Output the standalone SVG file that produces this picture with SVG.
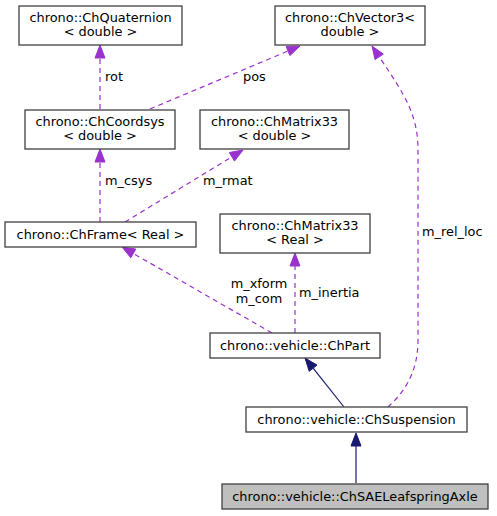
<svg xmlns="http://www.w3.org/2000/svg" width="497" height="516" viewBox="0 0 497 516">
<style>
.box{fill:#ffffff;stroke:#404040;stroke-width:1.3}
.hl{fill:#bfbfbf;stroke:#404040;stroke-width:1.3}
text{font-family:"DejaVu Sans","Liberation Sans",sans-serif;font-size:12.9px;fill:#000}
.c{text-anchor:middle}
.d{fill:none;stroke:#9a32cd;stroke-width:1.2;stroke-dasharray:5,4}
.da{fill:#9a32cd;stroke:#9a32cd}
.s{fill:none;stroke:#191970;stroke-width:1.2}
.sa{fill:#191970;stroke:#191970}
</style>
<rect width="497" height="516" fill="#ffffff"/>
<g id="connectors">
<path class="d" d="M100,109 L100,58"/>
<polygon class="da" points="95,58 100,45 105,58"/>
<text x="105" y="81">rot</text>
<path class="d" d="M150,109 L288,51"/>
<polygon class="da" points="289.9,55.6 300,46 286.1,46.4"/>
<text x="243" y="81">pos</text>
<path class="d" d="M100,222 L100,162"/>
<polygon class="da" points="95,162 100,149 105,162"/>
<text x="105" y="185">m_csys</text>
<path class="d" d="M125,222 L231.9,156.8"/>
<polygon class="da" points="234.5,161.1 243,150 229.3,152.5"/>
<text x="203" y="185">m_rmat</text>
<path class="d" d="M272,333 L133.3,253.5"/>
<polygon class="da" points="135.8,249.1 122,247 130.8,257.8"/>
<text class="c" x="259" y="288">m_xform</text>
<text class="c" x="259" y="303">m_com</text>
<path class="d" d="M295,333 L295,266"/>
<polygon class="da" points="290,266 295,253 300,266"/>
<text x="299" y="297">m_inertia</text>
<path class="d" d="M388,407 C402,394 418,375 418,340 L418,150 C418,115 405,95 379.2,56.9"/>
<polygon class="da" points="383.3,54.1 372,46 375,59.6"/>
<text x="422" y="236">m_rel_loc</text>
<path class="s" d="M344,407 L313.1,368.2"/>
<polygon class="sa" points="317,365.1 305,358 309.2,371.3"/>
<path class="s" d="M356,483 L356,446"/>
<polygon class="sa" points="351,446 356,433 361,446"/>
</g>
<g id="node_quaternion">
<rect class="box" x="19" y="6" width="163" height="39"/>
<text class="c" x="100.5" y="22">chrono::ChQuaternion</text>
<text class="c" x="100.5" y="36">&lt; double &gt;</text>
</g>
<g id="node_vector3">
<rect class="box" x="275" y="6" width="150" height="39"/>
<text class="c" x="350" y="22">chrono::ChVector3&lt;</text>
<text class="c" x="350" y="36">double &gt;</text>
</g>
<g id="node_coordsys">
<rect class="box" x="25" y="110" width="150" height="39"/>
<text class="c" x="100" y="126">chrono::ChCoordsys</text>
<text class="c" x="100" y="140">&lt; double &gt;</text>
</g>
<g id="node_matrix33_double">
<rect class="box" x="200" y="110" width="149" height="39"/>
<text class="c" x="274.5" y="126">chrono::ChMatrix33</text>
<text class="c" x="274.5" y="140">&lt; double &gt;</text>
</g>
<g id="node_frame">
<rect class="box" x="5" y="222" width="191" height="25"/>
<text class="c" x="100.5" y="239">chrono::ChFrame&lt; Real &gt;</text>
</g>
<g id="node_matrix33_real">
<rect class="box" x="220" y="214" width="150" height="39"/>
<text class="c" x="295" y="230">chrono::ChMatrix33</text>
<text class="c" x="295" y="244">&lt; Real &gt;</text>
</g>
<g id="node_part">
<rect class="box" x="210" y="333" width="170" height="25"/>
<text class="c" x="295" y="350">chrono::vehicle::ChPart</text>
</g>
<g id="node_suspension">
<rect class="box" x="246" y="407" width="221" height="25"/>
<text class="c" x="356.5" y="424">chrono::vehicle::ChSuspension</text>
</g>
<g id="node_leafspring">
<rect class="hl" x="222" y="484" width="266" height="25"/>
<text class="c" x="355" y="501">chrono::vehicle::ChSAELeafspringAxle</text>
</g>
</svg>
